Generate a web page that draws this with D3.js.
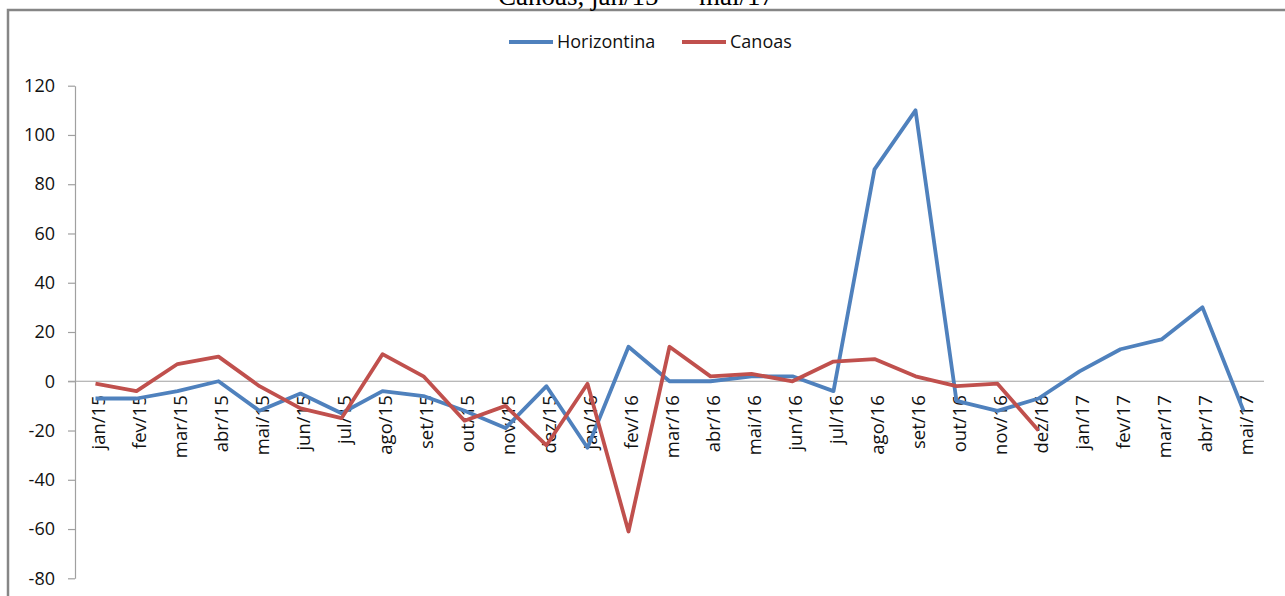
<!DOCTYPE html>
<html>
<head>
<meta charset="utf-8">
<script src="https://cdn.jsdelivr.net/npm/d3@7"></script>
<style>
  html, body { margin: 0; padding: 0; background: #fff; overflow: hidden; }
  svg { display: block; }
</style>
</head>
<body>
<svg id="chart" width="1285" height="596"></svg>
<script>
const categories = ["jan/15","fev/15","mar/15","abr/15","mai/15","jun/15","jul/15","ago/15","set/15","out/15","nov/15","dez/15",
  "jan/16","fev/16","mar/16","abr/16","mai/16","jun/16","jul/16","ago/16","set/16","out/16","nov/16","dez/16",
  "jan/17","fev/17","mar/17","abr/17","mai/17"];
const horizontina = [-7,-7,-4,0,-12,-5,-13,-4,-6,-12,-19,-2,-27,14,0,0,2,2,-4,86,110,-8,-12,-7,4,13,17,30,-12];
const canoas = [-1,-4,7,10,-2,-11,-15,11,2,-16,-10,-26,-1,-61,14,2,3,0,8,9,2,-2,-1,-20];
const yTicks = [-80,-60,-40,-20,0,20,40,60,80,100,120];
const seriesNames = ["Horizontina","Canoas"];
const seriesColors = ["#4F81BD","#C0504D"];
const titleText = "Canoas, jan/15 — mai/17";

const svg = d3.select("#chart");
const font = "'Open Sans', 'Liberation Sans', sans-serif";

// frame
svg.append("rect").attr("x", 8).attr("y", 10).attr("width", 1400).attr("height", 800)
  .attr("fill", "none").attr("stroke", "#868686").attr("stroke-width", 2.5);

// title (clipped at top, as in the reference)
svg.append("text").attr("x", 636).attr("y", 5).attr("text-anchor", "middle")
  .attr("font-family", "'Liberation Serif', 'Times New Roman', serif").attr("font-size", 27)
  .attr("fill", "#000").text(titleText);

const x = d3.scalePoint().domain(categories).range([75, 1264]).padding(0.5);
const y = d3.scaleLinear().domain([-80, 120]).range([578.3, 85.7]);

// y axis
const yAxis = svg.append("g").attr("transform", "translate(75,0)")
  .call(d3.axisLeft(y).tickValues(yTicks).tickFormat(d => String(d)).tickSize(7).tickSizeOuter(0).tickPadding(13));
yAxis.select(".domain").attr("stroke", "#a0a0a0").attr("stroke-width", 1.2);
yAxis.selectAll(".tick line").attr("stroke", "#a0a0a0").attr("stroke-width", 1.2);
yAxis.selectAll(".tick text").attr("font-family", font).attr("font-size", 18).attr("fill", "#111");

// zero line (category axis)
svg.append("line").attr("x1", 68).attr("x2", 1264).attr("y1", y(0)).attr("y2", y(0))
  .attr("stroke", "#a0a0a0").attr("stroke-width", 1.2);

// x labels
svg.append("g").selectAll("text").data(categories).join("text")
  .attr("transform", d => `translate(${x(d) + 3},${y(0) + 14}) rotate(-90)`)
  .attr("text-anchor", "end").attr("dy", "0.35em")
  .attr("font-family", font).attr("font-size", 18.5).attr("fill", "#111")
  .text(d => d);

// lines
const line = d3.line().x((d, i) => x(categories[i])).y(d => y(d));
[horizontina, canoas].forEach((vals, k) => {
  svg.append("path").datum(vals).attr("d", line)
    .attr("fill", "none").attr("stroke", seriesColors[k]).attr("stroke-width", 3.8)
    .attr("stroke-linejoin", "round").attr("stroke-linecap", "butt");
});

// legend
const legendX = [509, 682];
seriesNames.forEach((n, k) => {
  const g = svg.append("g").attr("transform", `translate(${legendX[k]},42)`);
  g.append("line").attr("x1", 0).attr("x2", 44).attr("y1", 0).attr("y2", 0)
    .attr("stroke", seriesColors[k]).attr("stroke-width", 4);
  g.append("text").attr("x", 48).attr("dy", "0.35em")
    .attr("font-family", font).attr("font-size", 18).attr("fill", "#111").text(n);
});
</script>
</body>
</html>
